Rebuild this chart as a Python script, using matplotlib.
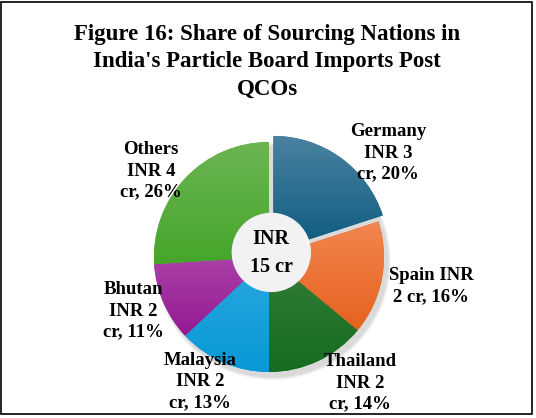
import matplotlib.pyplot as plt
import matplotlib.colors as mcolors
from matplotlib.patches import Circle, Rectangle
import numpy as np

# data
countries = ['Germany', 'Spain', 'Thailand', 'Malaysia', 'Bhutan', 'Others']
inr_cr = [3, 2, 2, 2, 2, 4]
shares = [20, 16, 14, 13, 11, 26]
total_label = 'INR\n15 cr'
title = "Figure 16: Share of Sourcing Nations in\nIndia's Particle Board Imports Post\nQCOs"

# top / bottom colours for the per-slice gradient
top_cols = ['#4a82a0', '#f2854f', '#357d3a', '#2aa8e0', '#aa40a8', '#6db552']
bot_cols = ['#0b5a80', '#e6621e', '#146c1e', '#0799d6', '#931a92', '#45a62b']

W, H = 536, 418
CX, CY, R = 269, 257, 115   # pie centre / radius in pixels (from top-left)

plt.rcParams['font.family'] = ['Liberation Serif', 'DejaVu Serif']

fig = plt.figure(figsize=(W / 100, H / 100), dpi=100)
ax = fig.add_axes([0, 0, 1, 1])
ax.set_axis_off()


def px(x, y):
    # pixel (from top-left) -> data units (pie radius = 1)
    return (x - CX) / R, (CY - y) / R


# soft shadow under the pie (bottom right)
for i, a in enumerate([0.04, 0.05, 0.06]):
    ax.add_patch(Circle((0.03, -0.04), 1.0 + 0.01 * (3 - i), color='black',
                        alpha=a, lw=0, zorder=0))

explode = [0.065, 0, 0, 0, 0, 0]
wedges, _ = ax.pie(shares, explode=explode, startangle=90, counterclock=False,
                   colors=bot_cols, radius=1.0, frame=False,
                   wedgeprops=dict(linewidth=0))

# vertical gradient inside every wedge
for w, c1, c2 in zip(wedges, top_cols, bot_cols):
    bb = w.get_path().get_extents()
    cmap = mcolors.LinearSegmentedColormap.from_list('g', [c2, c1])
    grad = np.linspace(0, 1, 100).reshape(-1, 1)
    im = ax.imshow(grad, cmap=cmap, origin='lower', aspect='auto',
                   extent=[bb.x0, bb.x1, bb.y0, bb.y1], zorder=1.5,
                   interpolation='bilinear')
    im.set_clip_path(w)

ax.add_patch(Circle((0.02, 0.04), 0.345, color='#f2f2f2', lw=0, zorder=3))
ax.text(0.02, 0.035, total_label, ha='center', va='center', fontsize=14.5,
        fontweight='bold', linespacing=1.55, zorder=4)

# data labels
label_pos = [(388, 153), (431, 286), (360, 383), (200, 382), (133, 311), (151, 171)]
label_txt = [
    'Germany\nINR %d\ncr, %d%%' % (inr_cr[0], shares[0]),
    'Spain INR\n%d cr, %d%%' % (inr_cr[1], shares[1]),
    'Thailand\nINR %d\ncr, %d%%' % (inr_cr[2], shares[2]),
    'Malaysia\nINR %d\ncr, %d%%' % (inr_cr[3], shares[3]),
    'Bhutan\nINR %d\ncr, %d%%' % (inr_cr[4], shares[4]),
    'Others\nINR %d\ncr, %d%%' % (inr_cr[5], shares[5]),
]
for (x, y), t in zip(label_pos, label_txt):
    lx, ly = px(x, y)
    ax.text(lx, ly, t, ha='center', va='center', fontsize=13.5,
            fontweight='bold', linespacing=1.32, zorder=5)

ax.set_xlim(-CX / R, (W - CX) / R)
ax.set_ylim(-(H - CY) / R, CY / R)
ax.set_aspect('auto')

fig.text(267 / W, 1 - 62 / H, title, ha='center', va='center', fontsize=16.5,
         fontweight='bold', linespacing=1.42)

# chart border
fig.patches.append(Rectangle((1 / W, 4 / H), 531 / W, 412 / H, fill=False,
                             edgecolor='black', lw=1.2, transform=fig.transFigure))

fig.savefig('out.png', dpi=100)
